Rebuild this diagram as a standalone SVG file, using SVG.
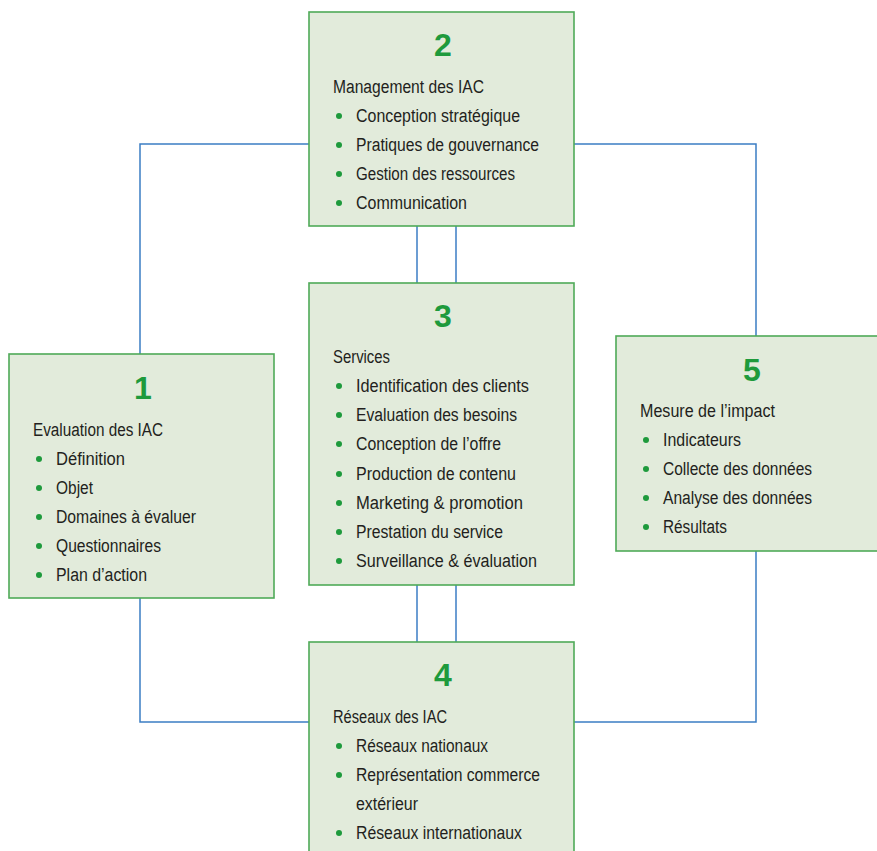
<svg xmlns="http://www.w3.org/2000/svg" width="877" height="851" viewBox="0 0 877 851">
<style>
.box{fill:#e2ebdb;stroke:#4faa58;stroke-width:1.6}
.num{font-family:"Liberation Sans",Arial,sans-serif;font-weight:bold;font-size:32px;fill:#1e9a3c;text-anchor:middle}
.t{font-family:"Liberation Sans",Arial,sans-serif;font-size:18px;fill:#231f20}
.b{fill:#1e9a3c}
.c{fill:none;stroke:#3b7dc4;stroke-width:1.5}
</style>
<rect width="877" height="851" fill="#ffffff"/>
<g id="connectors">
<polyline class="c" points="309,144 140,144 140,354"/>
<polyline class="c" points="574,144 756,144 756,336"/>
<polyline class="c" points="140,598 140,722 309,722"/>
<polyline class="c" points="756,551 756,722 574,722"/>
<line class="c" x1="417" y1="226" x2="417" y2="283"/>
<line class="c" x1="456" y1="226" x2="456" y2="283"/>
<line class="c" x1="417" y1="585" x2="417" y2="642"/>
<line class="c" x1="456" y1="585" x2="456" y2="642"/>
</g>
<g id="node2">
<rect class="box" x="309" y="12" width="265" height="214"/>
<text class="num" x="443" y="56">2</text>
<text class="t" x="333" y="93" textLength="151" lengthAdjust="spacingAndGlyphs">Management des IAC</text>
<circle class="b" cx="339" cy="116" r="3"/><text class="t" x="356" y="122" textLength="164" lengthAdjust="spacingAndGlyphs">Conception stratégique</text>
<circle class="b" cx="339" cy="145" r="3"/><text class="t" x="356" y="151" textLength="183" lengthAdjust="spacingAndGlyphs">Pratiques de gouvernance</text>
<circle class="b" cx="339" cy="174" r="3"/><text class="t" x="356" y="180" textLength="159" lengthAdjust="spacingAndGlyphs">Gestion des ressources</text>
<circle class="b" cx="339" cy="203" r="3"/><text class="t" x="356" y="209" textLength="111" lengthAdjust="spacingAndGlyphs">Communication</text>
</g>
<g id="node3">
<rect class="box" x="309" y="283" width="265" height="302"/>
<text class="num" x="443" y="327">3</text>
<text class="t" x="333" y="363" textLength="57" lengthAdjust="spacingAndGlyphs">Services</text>
<circle class="b" cx="339" cy="386" r="3"/><text class="t" x="356" y="392" textLength="173" lengthAdjust="spacingAndGlyphs">Identification des clients</text>
<circle class="b" cx="339" cy="415" r="3"/><text class="t" x="356" y="421" textLength="161" lengthAdjust="spacingAndGlyphs">Evaluation des besoins</text>
<circle class="b" cx="339" cy="444" r="3"/><text class="t" x="356" y="450" textLength="145" lengthAdjust="spacingAndGlyphs">Conception de l’offre</text>
<circle class="b" cx="339" cy="474" r="3"/><text class="t" x="356" y="480" textLength="160" lengthAdjust="spacingAndGlyphs">Production de contenu</text>
<circle class="b" cx="339" cy="503" r="3"/><text class="t" x="356" y="509" textLength="167" lengthAdjust="spacingAndGlyphs">Marketing &amp; promotion</text>
<circle class="b" cx="339" cy="532" r="3"/><text class="t" x="356" y="538" textLength="147" lengthAdjust="spacingAndGlyphs">Prestation du service</text>
<circle class="b" cx="339" cy="561" r="3"/><text class="t" x="356" y="567" textLength="181" lengthAdjust="spacingAndGlyphs">Surveillance &amp; évaluation</text>
</g>
<g id="node1">
<rect class="box" x="9" y="354" width="265" height="244"/>
<text class="num" x="143" y="399">1</text>
<text class="t" x="33" y="436" textLength="130" lengthAdjust="spacingAndGlyphs">Evaluation des IAC</text>
<circle class="b" cx="39" cy="459" r="3"/><text class="t" x="56" y="465" textLength="69" lengthAdjust="spacingAndGlyphs">Définition</text>
<circle class="b" cx="39" cy="488" r="3"/><text class="t" x="56" y="494" textLength="37" lengthAdjust="spacingAndGlyphs">Objet</text>
<circle class="b" cx="39" cy="517" r="3"/><text class="t" x="56" y="523" textLength="140" lengthAdjust="spacingAndGlyphs">Domaines à évaluer</text>
<circle class="b" cx="39" cy="546" r="3"/><text class="t" x="56" y="552" textLength="105" lengthAdjust="spacingAndGlyphs">Questionnaires</text>
<circle class="b" cx="39" cy="575" r="3"/><text class="t" x="56" y="581" textLength="91" lengthAdjust="spacingAndGlyphs">Plan d’action</text>
</g>
<g id="node5">
<rect class="box" x="616" y="336" width="270" height="215"/>
<text class="num" x="752" y="381">5</text>
<text class="t" x="640" y="417" textLength="135" lengthAdjust="spacingAndGlyphs">Mesure de l’impact</text>
<circle class="b" cx="646" cy="440" r="3"/><text class="t" x="663" y="446" textLength="78" lengthAdjust="spacingAndGlyphs">Indicateurs</text>
<circle class="b" cx="646" cy="469" r="3"/><text class="t" x="663" y="475" textLength="149" lengthAdjust="spacingAndGlyphs">Collecte des données</text>
<circle class="b" cx="646" cy="498" r="3"/><text class="t" x="663" y="504" textLength="149" lengthAdjust="spacingAndGlyphs">Analyse des données</text>
<circle class="b" cx="646" cy="527" r="3"/><text class="t" x="663" y="533" textLength="64" lengthAdjust="spacingAndGlyphs">Résultats</text>
</g>
<g id="node4">
<rect class="box" x="309" y="642" width="265" height="220"/>
<text class="num" x="443" y="686">4</text>
<text class="t" x="333" y="723" textLength="114" lengthAdjust="spacingAndGlyphs">Réseaux des IAC</text>
<circle class="b" cx="339" cy="746" r="3"/><text class="t" x="356" y="752" textLength="132" lengthAdjust="spacingAndGlyphs">Réseaux nationaux</text>
<circle class="b" cx="339" cy="775" r="3"/><text class="t" x="356" y="781" textLength="184" lengthAdjust="spacingAndGlyphs">Représentation commerce</text>
<text class="t" x="356" y="810" textLength="62" lengthAdjust="spacingAndGlyphs">extérieur</text>
<circle class="b" cx="339" cy="833" r="3"/><text class="t" x="356" y="839" textLength="166" lengthAdjust="spacingAndGlyphs">Réseaux internationaux</text>
</g>
</svg>
